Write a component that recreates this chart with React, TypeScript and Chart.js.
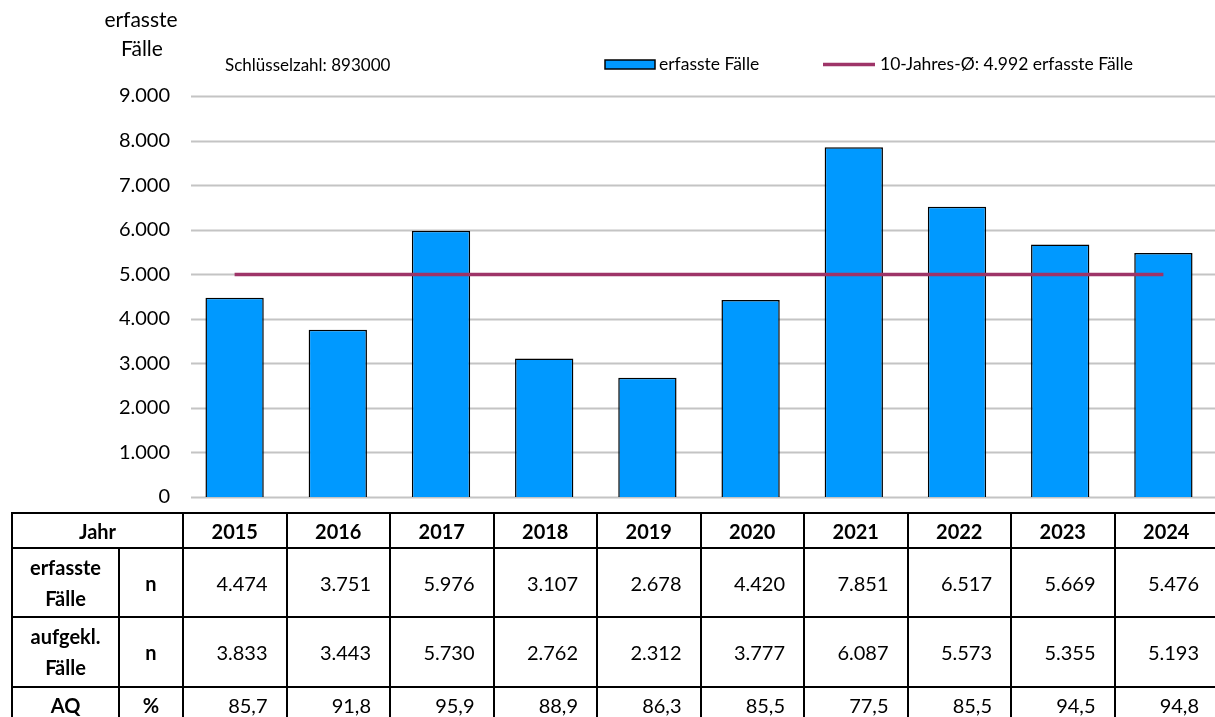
import React, { useEffect, useRef } from "react";
import { Chart, registerables } from "chart.js";

Chart.register(...registerables);

const years = ["2015", "2016", "2017", "2018", "2019", "2020", "2021", "2022", "2023", "2024"];
const erfassteFaelle = [4474, 3751, 5976, 3107, 2678, 4420, 7851, 6517, 5669, 5476];
const aufgeklaerteFaelle = [3833, 3443, 5730, 2762, 2312, 3777, 6087, 5573, 5355, 5193];
const aufklaerungsquote = [85.7, 91.8, 95.9, 88.9, 86.3, 85.5, 77.5, 85.5, 94.5, 94.8];
const zehnJahresMittel = 4992;
const schluesselzahl = "893000";
const yMax = 9000;
const yStep = 1000;

const FONT = "Lato, 'Open Sans', sans-serif";
const BLUE = "#0099FF";
const PURPLE = "#9E3468";
const GRID = "#c4c4c4";

const fmtInt = (v: number) => String(v).replace(/\B(?=(\d{3})+(?!\d))/g, ".");
const fmtDec = (v: number) => v.toFixed(1).replace(".", ",");

const gridPlugin = {
  id: "customGrid",
  beforeDatasetsDraw(chart: any) {
    const ctx = chart.ctx;
    const y = chart.scales.y;
    const area = chart.chartArea;
    ctx.save();
    ctx.strokeStyle = GRID;
    ctx.lineWidth = 2;
    y.ticks.forEach((t: any) => {
      const py = Math.round(y.getPixelForValue(t.value)) + 0.5;
      ctx.beginPath();
      ctx.moveTo(191, py);
      ctx.lineTo(area.right, py);
      ctx.stroke();
    });
    ctx.restore();
  },
};

const textPlugin = {
  id: "texts",
  afterDraw(chart: any) {
    const ctx = chart.ctx;
    ctx.save();
    ctx.fillStyle = "#000";
    ctx.textBaseline = "middle";
    ctx.textAlign = "center";
    ctx.font = `21px ${FONT}`;
    ctx.fillText("erfasste", 141, 20);
    ctx.fillText("Fälle", 142, 49);
    ctx.textAlign = "left";
    ctx.font = `17px ${FONT}`;
    ctx.fillText("Schlüsselzahl: " + schluesselzahl, 225, 66);
    // legend
    const ds = chart.data.datasets;
    ctx.fillStyle = BLUE;
    ctx.fillRect(605, 60, 50, 9);
    ctx.strokeStyle = "#000";
    ctx.lineWidth = 1.5;
    ctx.strokeRect(605, 60, 50, 9);
    ctx.fillStyle = "#000";
    ctx.font = `17.5px ${FONT}`;
    ctx.fillText(ds[0].label, 659, 64.5);
    ctx.strokeStyle = PURPLE;
    ctx.lineWidth = 3.5;
    ctx.beginPath();
    ctx.moveTo(823, 64.5);
    ctx.lineTo(875, 64.5);
    ctx.stroke();
    ctx.fillText(ds[1].label, 880, 64.5);
    ctx.restore();
  },
};

export default function App() {
  const ref = useRef<HTMLCanvasElement>(null);
  useEffect(() => {
    const chart = new Chart(ref.current!, {
      type: "bar",
      data: {
        labels: years,
        datasets: [
          {
            type: "bar",
            label: "erfasste Fälle",
            data: erfassteFaelle,
            backgroundColor: BLUE,
            borderColor: "#000",
            borderWidth: 1.5,
            barPercentage: 0.565,
            categoryPercentage: 1,
            order: 1,
          },
          {
            type: "line",
            label: "10-Jahres-Ø: " + fmtInt(zehnJahresMittel) + " erfasste Fälle",
            data: years.map(() => zehnJahresMittel),
            borderColor: PURPLE,
            borderWidth: 3.5,
            pointRadius: 0,
            order: 0,
          } as any,
        ],
      },
      options: {
        responsive: false,
        animation: false,
        layout: { padding: { top: 96, bottom: 10, left: 0, right: 0 } },
        plugins: { legend: { display: false }, tooltip: { enabled: false } },
        scales: {
          x: { display: false, offset: true },
          y: {
            min: 0,
            max: yMax,
            border: { display: false },
            grid: { display: false, drawTicks: false },
            ticks: {
              stepSize: yStep,
              padding: 13,
              color: "#000",
              font: { family: FONT, size: 20 },
              callback: (v: any) => fmtInt(Number(v)),
            },
            afterFit: (s: any) => {
              s.width = 183;
            },
          },
        },
      },
      plugins: [gridPlugin, textPlugin],
    });
    return () => chart.destroy();
  }, []);

  const cell: React.CSSProperties = {
    border: "2px solid #000",
    padding: 0,
    fontFamily: FONT,
    fontSize: 20,
    color: "#000",
  };
  const head: React.CSSProperties = { ...cell, fontWeight: 700, textAlign: "center" };
  const val: React.CSSProperties = { ...cell, textAlign: "right", paddingRight: 18 };
  const rowLabel: React.CSSProperties = { ...cell, fontWeight: 700, textAlign: "center", lineHeight: "31px" };

  return (
    <div style={{ position: "absolute", left: 0, top: 0, width: 1215, height: 717, overflow: "hidden", background: "#fff" }}>
      <canvas ref={ref} width={1215} height={522} style={{ position: "absolute", left: 0, top: 0 }} />
      <table
        style={{
          position: "absolute",
          left: 11,
          top: 512,
          borderCollapse: "collapse",
          tableLayout: "fixed",
          width: 1206,
        }}
      >
        <colgroup>
          <col style={{ width: 107 }} />
          <col style={{ width: 64 }} />
          {years.map((y) => (
            <col key={y} style={{ width: 103.5 }} />
          ))}
        </colgroup>
        <tbody>
          <tr style={{ height: 35 }}>
            <td style={head} colSpan={2}>Jahr</td>
            {years.map((y) => (
              <td key={y} style={head}>{y}</td>
            ))}
          </tr>
          <tr style={{ height: 69 }}>
            <td style={rowLabel}>erfasste<br />Fälle</td>
            <td style={head}>n</td>
            {erfassteFaelle.map((v, i) => (
              <td key={i} style={val}>{fmtInt(v)}</td>
            ))}
          </tr>
          <tr style={{ height: 70 }}>
            <td style={rowLabel}>aufgekl.<br />Fälle</td>
            <td style={head}>n</td>
            {aufgeklaerteFaelle.map((v, i) => (
              <td key={i} style={val}>{fmtInt(v)}</td>
            ))}
          </tr>
          <tr style={{ height: 35 }}>
            <td style={head}>AQ</td>
            <td style={head}>%</td>
            {aufklaerungsquote.map((v, i) => (
              <td key={i} style={val}>{fmtDec(v)}</td>
            ))}
          </tr>
        </tbody>
      </table>
    </div>
  );
}
